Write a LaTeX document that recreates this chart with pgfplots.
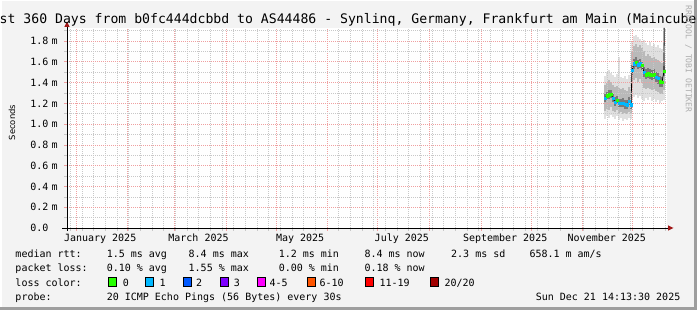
\documentclass[border=0pt]{standalone}
\usepackage{pgfplots}
\pgfplotsset{compat=1.18}
\usepackage{pgfplotstable}
\usepackage{fontspec}
\setmainfont{DejaVu Sans Mono}
\newfontfamily\dvs{DejaVu Sans}
\definecolor{bg}{HTML}{F3F3F3}
\definecolor{gridred}{HTML}{F0A0A0}
\definecolor{gridgray}{HTML}{C8C8C8}
\definecolor{arrowred}{HTML}{A01818}
\definecolor{shadeb}{HTML}{9E9E9E}
\definecolor{smokeA}{HTML}{E0E0E0}
\definecolor{smokeB}{HTML}{B9B9B9}
\definecolor{smokeC}{HTML}{7A7A7A}
\definecolor{loss0}{HTML}{26FF00}
\definecolor{loss1}{HTML}{00B8FF}
\definecolor{loss2}{HTML}{0059FF}
\definecolor{loss3}{HTML}{7E00FF}
\definecolor{loss5}{HTML}{FF00FF}
\definecolor{loss10}{HTML}{FF5500}
\definecolor{loss19}{HTML}{FF0000}
\definecolor{loss20}{HTML}{A10000}

% smoke bands (outer l1-h1, middle l2-h2, core l3-h3)
\pgfplotstableread{
x l1 l2 l3 h3 h2 h1
317.4 1.05 1.13 1.21 1.29 1.38 1.46
318.6 1.08 1.15 1.23 1.31 1.40 1.50
319.8 1.06 1.14 1.24 1.33 1.42 1.52
321.0 1.09 1.16 1.25 1.33 1.41 1.49
322.2 1.07 1.13 1.21 1.29 1.38 1.47
323.4 1.05 1.12 1.17 1.26 1.36 1.45
324.6 1.08 1.14 1.19 1.27 1.37 1.48
325.8 1.04 1.11 1.16 1.24 1.35 1.65
327.0 1.06 1.12 1.16 1.24 1.34 1.45
328.2 1.03 1.10 1.16 1.25 1.35 1.44
329.4 1.05 1.11 1.15 1.23 1.33 1.46
330.6 1.04 1.10 1.15 1.23 1.32 1.43
331.8 1.06 1.12 1.18 1.26 1.36 1.47
333.0 1.05 1.11 1.15 1.23 1.33 1.44
333.6 1.24 1.36 1.47 1.57 1.70 1.80
334.8 1.26 1.42 1.53 1.63 1.75 1.85
336.0 1.28 1.44 1.55 1.65 1.77 1.86
337.2 1.25 1.41 1.53 1.62 1.74 1.84
338.4 1.27 1.43 1.54 1.63 1.76 1.82
339.6 1.24 1.40 1.52 1.61 1.73 1.80
340.8 1.22 1.35 1.45 1.55 1.70 1.81
342.0 1.25 1.34 1.43 1.53 1.66 1.78
343.2 1.23 1.35 1.44 1.54 1.67 1.76
344.4 1.26 1.34 1.43 1.53 1.66 1.79
345.6 1.22 1.33 1.42 1.52 1.64 1.75
346.8 1.24 1.34 1.43 1.53 1.65 1.77
348.0 1.21 1.32 1.41 1.50 1.63 1.74
349.2 1.23 1.31 1.39 1.49 1.62 1.76
350.4 1.20 1.29 1.36 1.46 1.60 1.73
351.6 1.22 1.29 1.36 1.45 1.59 1.72
352.8 1.23 1.33 1.46 1.56 1.68 1.78
}\smoke
% median rtt with loss class
\pgfplotstableread{
x m c
317.4 1.250 c
318.6 1.272 g
319.8 1.283 g
321.0 1.287 g
322.2 1.250 c
323.4 1.213 c
324.6 1.229 g
325.8 1.200 c
327.0 1.200 c
328.2 1.203 c
329.4 1.193 c
330.6 1.187 c
331.8 1.219 c
333.0 1.187 c
333.6 1.520 c
334.8 1.582 c
336.0 1.598 g
337.2 1.572 c
338.4 1.582 c
339.6 1.566 g
340.8 1.500 c
342.0 1.476 g
343.2 1.485 g
344.4 1.476 g
345.6 1.470 g
346.8 1.476 g
348.0 1.453 c
349.2 1.440 c
350.4 1.410 g
351.6 1.405 g
352.8 1.508 g
}\med

\begin{document}
\begin{tikzpicture}
\begin{scope}[x=1pt,y=1pt]
\fill[bg] (0,0) rectangle (697,310);
\fill[white] (0,308.5) rectangle (697,310);
\fill[white] (0,0) rectangle (1.5,310);
\fill[shadeb] (694,0) rectangle (697,310);
\fill[shadeb] (0,0) rectangle (697,3);
\end{scope}

\begin{axis}[
  at={(67pt,82pt)}, anchor=south west,
  scale only axis, width=600pt, height=200pt,
  xmin=-5.4, xmax=354.6, ymin=0, ymax=1.925,
  axis background/.style={fill=white},
  axis line style={draw=none},
  axis on top,
  tick pos=left, tick align=outside,
  major tick length=3pt, minor tick length=3pt,
  major tick style={draw=gridred, line width=0.6pt},
  minor tick style={draw=gridgray, line width=0.6pt},
  xtick={0,31,59,90,120,151,181,212,243,273,304,334},
  xticklabels={},
  minor xtick={-3.4,3.6,10.6,17.6,24.6,31.6,38.6,45.6,52.6,59.6,66.6,73.6,80.6,87.6,94.6,101.6,108.6,115.6,122.6,129.6,136.6,143.6,150.6,157.6,164.6,171.6,178.6,185.6,192.6,199.6,206.6,213.6,220.6,227.6,234.6,241.6,248.6,255.6,262.6,269.6,276.6,283.6,290.6,297.6,304.6,311.6,318.6,325.6,332.6,339.6,346.6,353.6},
  ytick={0,0.2,0.4,0.6,0.8,1.0,1.2,1.4,1.6,1.8},
  yticklabels={0.0,0.2 m,0.4 m,0.6 m,0.8 m,1.0 m,1.2 m,1.4 m,1.6 m,1.8 m},
  minor ytick={0.1,0.3,0.5,0.7,0.9,1.1,1.3,1.5,1.7,1.9},
  yticklabel style={font=\fontsize{10}{12}\selectfont, anchor=east, inner sep=0pt, text width=30pt, align=left, xshift=-3.5pt},
  grid=both,
  major grid style={draw=gridred, dash pattern=on 1pt off 1pt, line width=0.6pt},
  minor grid style={draw=gridgray, dash pattern=on 1pt off 1pt, line width=0.6pt},
  extra x ticks={14.5,73.5,134.5,195.5,257.5,318.5},
  extra x tick labels={January 2025,March 2025,May 2025,July 2025,September 2025,November 2025},
  extra x tick style={grid=none, major tick length=0pt,
    xticklabel style={font=\fontsize{10}{12}\selectfont, anchor=base, inner sep=0pt, yshift=-13.3pt}},
]
% smoke columns
\addplot[draw=none, mark=none, error bars/.cd, y dir=both, y explicit,
  error mark=none, error bar style={draw=smokeA, line width=2.1pt, line cap=butt}]
  table[x=x, y expr={(\thisrow{h1}+\thisrow{l1})/2}, y error expr={(\thisrow{h1}-\thisrow{l1})/2}]{\smoke};
\addplot[draw=none, mark=none, error bars/.cd, y dir=both, y explicit,
  error mark=none, error bar style={draw=smokeB, line width=2.1pt, line cap=butt}]
  table[x=x, y expr={(\thisrow{h2}+\thisrow{l2})/2}, y error expr={(\thisrow{h2}-\thisrow{l2})/2}]{\smoke};
\addplot[draw=none, mark=none, error bars/.cd, y dir=both, y explicit,
  error mark=none, error bar style={draw=smokeC, line width=2.1pt, line cap=butt}]
  table[x=x, y expr={(\thisrow{h3}+\thisrow{l3})/2}, y error expr={(\thisrow{h3}-\thisrow{l3})/2}]{\smoke};
% median line
\addplot[black, line width=0.7pt, mark=none] table[x=x,y=m]{\med};
\addplot[black, line width=0.9pt, mark=none] coordinates {(352.8,1.508) (352.85,1.925)};
\addplot[scatter, only marks, scatter src=explicit symbolic, mark size=1.2pt,
  scatter/classes={g={mark=square*, draw=loss0, fill=loss0}, c={mark=square*, draw=loss1, fill=loss1}}]
  table[x=x,y=m,meta=c]{\med};
\end{axis}

\begin{scope}[x=1pt,y=1pt]
% axis lines with arrows
\draw[black, line width=0.8pt] (62,82) -- (668,82);
\fill[arrowred] (668,79.3) -- (673.5,82) -- (668,84.7) -- cycle;
\draw[black, line width=0.8pt] (67,79) -- (67,283);
\fill[arrowred] (64.3,283) -- (67,288.5) -- (69.7,283) -- cycle;

% title
\node[anchor=base west, inner sep=0pt, font=\fontsize{13.15}{15}\selectfont] at (-16.3,286) {Last 360 Days from b0fc444dcbbd to AS44486 - Synlinq, Germany, Frankfurt am Main (Maincubes FRA01)};
% y label
\node[rotate=90, inner sep=0pt, font=\dvs\fontsize{8.4}{10}\selectfont] at (12,187.5) {Seconds};
% rrdtool watermark
\node[rotate=-90, inner sep=0pt, text=black!32, font=\fontsize{8.1}{10}\selectfont] at (688.5,251) {RRDTOOL / TOBI OETIKER};

% legend text
\begin{scope}[every node/.style={anchor=base west, inner sep=0pt, font=\fontsize{10}{12}\selectfont}]
\node at (15.3,52.3) {median rtt:};
\node at (106.6,52.3) {1.5 ms avg};
\node at (188.5,52.3) {8.4 ms max};
\node at (278.6,52.3) {1.2 ms min};
\node at (364.3,52.3) {8.4 ms now};
\node at (451,52.3) {2.3 ms sd};
\node at (529.3,52.3) {658.1 m am/s};
\node at (15.3,38) {packet loss:};
\node at (106.6,38) {0.10 \% avg};
\node at (188.5,38) {1.55 \% max};
\node at (278.6,38) {0.00 \% min};
\node at (364.3,38) {0.18 \% now};
\node at (15.3,23.7) {loss color:};
\node at (122.6,23.7) {0};
\node at (159.3,23.7) {1};
\node at (196,23.7) {2};
\node at (233.6,23.7) {3};
\node at (269.3,23.7) {4-5};
\node at (319.3,23.7) {6-10};
\node at (379.3,23.7) {11-19};
\node at (444.3,23.7) {20/20};
\node at (15.3,9.4) {probe:};
\node at (106.6,9.4) {20 ICMP Echo Pings (56 Bytes) every 30s};
\node[anchor=base east] at (680.5,9.4) {Sun Dec 21 14:13:30 2025};
\end{scope}
% loss color swatches
\begin{scope}[line width=0.8pt]
\filldraw[fill=loss0, draw=black] (108.5,24) rectangle (116.5,32.3);
\filldraw[fill=loss1, draw=black] (145.8,24) rectangle (153.8,32.3);
\filldraw[fill=loss2, draw=black] (183,24) rectangle (191,32.3);
\filldraw[fill=loss3, draw=black] (220.2,24) rectangle (228.2,32.3);
\filldraw[fill=loss5, draw=black] (257,24) rectangle (265,32.3);
\filldraw[fill=loss10, draw=black] (307,24) rectangle (315,32.3);
\filldraw[fill=loss19, draw=black] (365.3,24) rectangle (373.3,32.3);
\filldraw[fill=loss20, draw=black] (430.3,24) rectangle (438.3,32.3);
\end{scope}
\pgfresetboundingbox
\path[use as bounding box] (0,0) rectangle (697,310);
\end{scope}
\end{tikzpicture}
\end{document}
